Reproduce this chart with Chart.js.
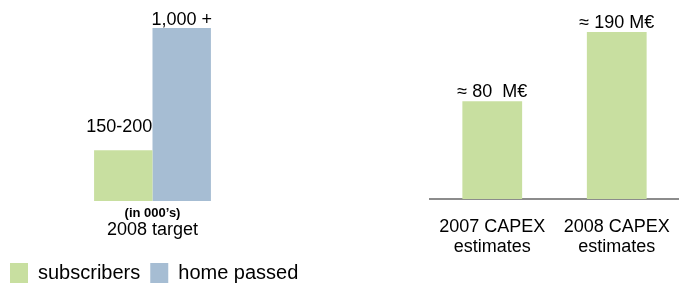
<!DOCTYPE html>
<html>
<head>
<meta charset="utf-8">
<script src="https://cdn.jsdelivr.net/npm/chart.js@4/dist/chart.umd.min.js"></script>
<style>
  html, body { margin: 0; padding: 0; background: #fff; overflow: hidden; width: 679px; height: 285px; }
  canvas { position: absolute; top: 0; }
  #targetChart { left: 0; }
  #capexChart { left: 340px; }
</style>
</head>
<body>
<canvas id="targetChart" width="400" height="300"></canvas>
<canvas id="capexChart" width="339" height="285"></canvas>
<script>
// left chart: 2008 targets (in 000's)
const targetCategories = ['2008 target'];
const subscribers = [175];
const homePassed = [1000];
const subscriberLabels = ['150-200'];
const homePassedLabels = ['1,000 +'];

// right chart: CAPEX (M€)
const capexCategories = [['2007 CAPEX', 'estimates'], ['2008 CAPEX', 'estimates']];
const capexValues = [80, 190];
const capexLabels = ['≈ 80  M€', '≈ 190 M€'];

const GREEN = '#c8dfa0';
const BLUE = '#a6bdd3';
const FONT = "'Liberation Sans', Arial, sans-serif";

// writes the value text above each bar, plus an optional note under the plot
const barLabels = {
  id: 'barLabels',
  afterDatasetsDraw(chart, args, opts) {
    const ctx = chart.ctx;
    ctx.save();
    ctx.fillStyle = '#000';
    ctx.font = '18px ' + FONT;
    ctx.textAlign = 'center';
    ctx.textBaseline = 'alphabetic';
    chart.data.datasets.forEach((ds, i) => {
      chart.getDatasetMeta(i).data.forEach((bar, j) => {
        ctx.fillText(ds.valueLabels[j], bar.x + (ds.labelDx || 0), bar.y - (ds.labelGap || 4));
      });
    });
    if (opts.note) {
      const x = chart.scales.x;
      ctx.font = 'bold 13px ' + FONT;
      ctx.textBaseline = 'middle';
      ctx.fillText(opts.note, (x.left + x.right) / 2, chart.chartArea.bottom + 12);
    }
    ctx.restore();
  }
};

// fixed axis sizes so the plot lines up with the page layout
const fixAxis = (h) => (scale) => {
  scale.height = h;
  scale.paddingLeft = 0;
  scale.paddingRight = 0;
};
const fixWidth = (w) => (scale) => { scale.width = w; };

new Chart(document.getElementById('targetChart'), {
  type: 'bar',
  data: {
    labels: targetCategories,
    datasets: [
      {
        label: 'subscribers',
        data: subscribers,
        valueLabels: subscriberLabels,
        labelDx: -4,
        labelGap: 18,
        backgroundColor: GREEN,
        base: -167,
        categoryPercentage: 0.41,
        barPercentage: 1,
      },
      {
        label: 'home passed',
        data: homePassed,
        valueLabels: homePassedLabels,
        labelGap: 3,
        backgroundColor: BLUE,
        base: -167,
        categoryPercentage: 0.41,
        barPercentage: 1,
      },
    ],
  },
  options: {
    responsive: false,
    animation: false,
    layout: { padding: { left: 0, top: 28, right: 0, bottom: 7 } },
    scales: {
      x: {
        grid: { display: false },
        border: { display: false },
        ticks: { color: '#000', padding: 10, font: { family: FONT, size: 18 } },
        afterFit: fixAxis(52),
      },
      y: {
        position: 'left',
        min: -167,
        max: 1000,
        grid: { display: false },
        border: { display: false },
        ticks: { display: false },
        afterFit: fixWidth(10),
      },
      y2: {
        position: 'right',
        grid: { display: false },
        border: { display: false },
        ticks: { display: false },
        afterFit: fixWidth(105),
      },
    },
    plugins: {
      tooltip: { enabled: false },
      barLabels: { note: '(in 000\u2019s)' },
      legend: {
        position: 'bottom',
        align: 'start',
        labels: {
          color: '#000',
          boxWidth: 18,
          boxHeight: 20,
          padding: 10,
          font: { family: FONT, size: 20 },
        },
      },
    },
  },
  plugins: [barLabels],
});

new Chart(document.getElementById('capexChart'), {
  type: 'bar',
  data: {
    labels: capexCategories,
    datasets: [
      {
        label: 'CAPEX',
        data: capexValues,
        valueLabels: capexLabels,
        labelGap: 4,
        backgroundColor: GREEN,
        base: -75,
        categoryPercentage: 0.48,
        barPercentage: 1,
      },
    ],
  },
  options: {
    responsive: false,
    animation: false,
    layout: { padding: { left: 90, top: 32, right: 0, bottom: 0 } },
    scales: {
      x: {
        grid: { display: false },
        border: { display: true, color: '#8c8c8c', width: 2 },
        ticks: { color: '#000', padding: 10, font: { family: FONT, size: 18, lineHeight: 1.1 } },
        afterFit: fixAxis(86),
      },
      y: {
        display: false,
        min: -75,
        max: 190,
      },
    },
    plugins: {
      tooltip: { enabled: false },
      legend: { display: false },
    },
  },
  plugins: [barLabels],
});
</script>
</body>
</html>
